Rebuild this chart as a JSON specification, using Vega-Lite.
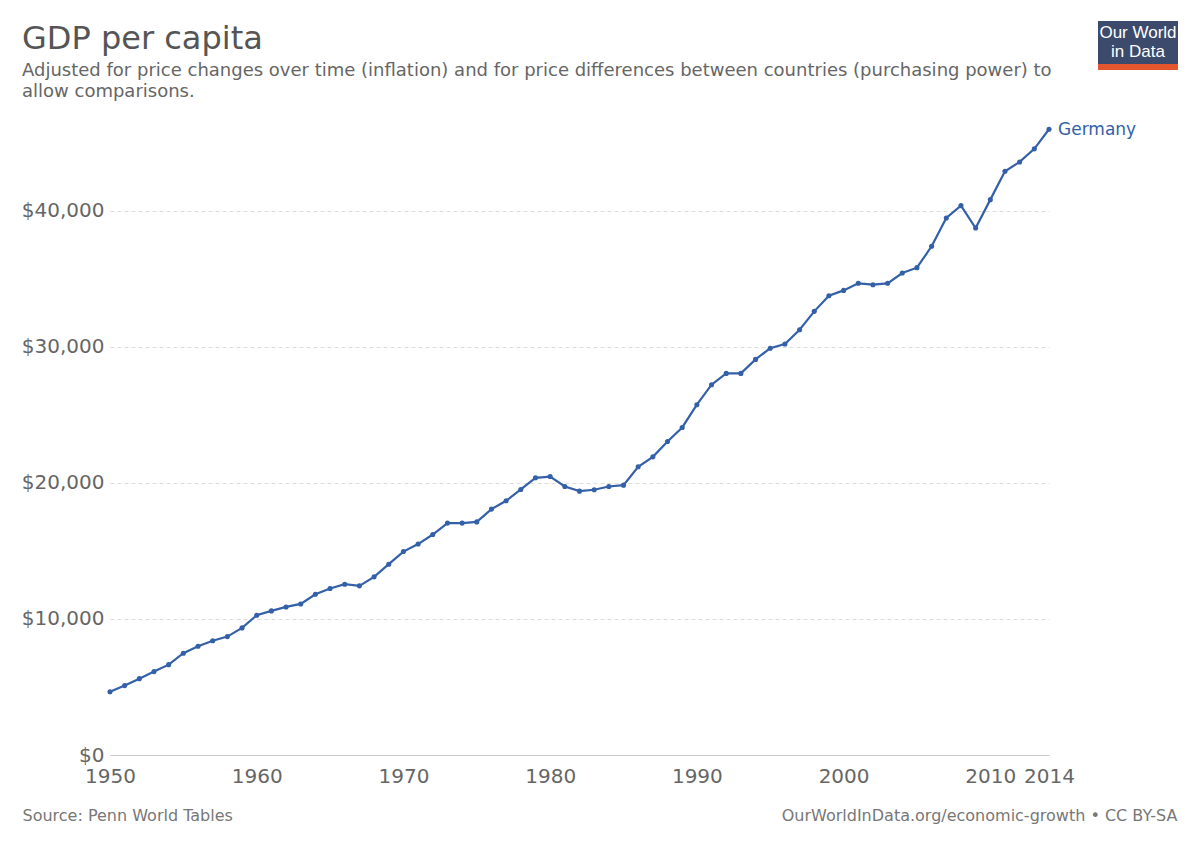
{
  "$schema": "https://vega.github.io/schema/vega-lite/v6.json",
  "width": 939,
  "height": 626,
  "autosize": {"type": "none"},
  "padding": {"left": 110, "top": 129, "right": 151, "bottom": 92},
  "background": "white",
  "config": {"view": {"stroke": null}, "font": "DejaVu Sans"},
  "title": {
    "text": "GDP per capita",
    "subtitle": [
      "Adjusted for price changes over time (inflation) and for price differences between countries (purchasing power) to",
      "allow comparisons."
    ],
    "anchor": "start",
    "frame": "group",
    "dx": -88,
    "offset": -81,
    "fontSize": 32,
    "fontWeight": "normal",
    "color": "#555",
    "subtitleFontSize": 18,
    "subtitleColor": "#666",
    "subtitleLineHeight": 21,
    "subtitlePadding": 6
  },
  "data": {
    "values": [
      {"country": "Germany", "year": 1950, "gdp": 4650},
      {"country": "Germany", "year": 1951, "gdp": 5100},
      {"country": "Germany", "year": 1952, "gdp": 5610},
      {"country": "Germany", "year": 1953, "gdp": 6130},
      {"country": "Germany", "year": 1954, "gdp": 6640},
      {"country": "Germany", "year": 1955, "gdp": 7480},
      {"country": "Germany", "year": 1956, "gdp": 7990},
      {"country": "Germany", "year": 1957, "gdp": 8400},
      {"country": "Germany", "year": 1958, "gdp": 8700},
      {"country": "Germany", "year": 1959, "gdp": 9340},
      {"country": "Germany", "year": 1960, "gdp": 10270},
      {"country": "Germany", "year": 1961, "gdp": 10590},
      {"country": "Germany", "year": 1962, "gdp": 10880},
      {"country": "Germany", "year": 1963, "gdp": 11100},
      {"country": "Germany", "year": 1964, "gdp": 11810},
      {"country": "Germany", "year": 1965, "gdp": 12230},
      {"country": "Germany", "year": 1966, "gdp": 12550},
      {"country": "Germany", "year": 1967, "gdp": 12430},
      {"country": "Germany", "year": 1968, "gdp": 13090},
      {"country": "Germany", "year": 1969, "gdp": 14020},
      {"country": "Germany", "year": 1970, "gdp": 14950},
      {"country": "Germany", "year": 1971, "gdp": 15500},
      {"country": "Germany", "year": 1972, "gdp": 16200},
      {"country": "Germany", "year": 1973, "gdp": 17040},
      {"country": "Germany", "year": 1974, "gdp": 17040},
      {"country": "Germany", "year": 1975, "gdp": 17130},
      {"country": "Germany", "year": 1976, "gdp": 18070},
      {"country": "Germany", "year": 1977, "gdp": 18680},
      {"country": "Germany", "year": 1978, "gdp": 19510},
      {"country": "Germany", "year": 1979, "gdp": 20370},
      {"country": "Germany", "year": 1980, "gdp": 20460},
      {"country": "Germany", "year": 1981, "gdp": 19730},
      {"country": "Germany", "year": 1982, "gdp": 19390},
      {"country": "Germany", "year": 1983, "gdp": 19490},
      {"country": "Germany", "year": 1984, "gdp": 19730},
      {"country": "Germany", "year": 1985, "gdp": 19830},
      {"country": "Germany", "year": 1986, "gdp": 21180},
      {"country": "Germany", "year": 1987, "gdp": 21910},
      {"country": "Germany", "year": 1988, "gdp": 23040},
      {"country": "Germany", "year": 1989, "gdp": 24070},
      {"country": "Germany", "year": 1990, "gdp": 25740},
      {"country": "Germany", "year": 1991, "gdp": 27210},
      {"country": "Germany", "year": 1992, "gdp": 28040},
      {"country": "Germany", "year": 1993, "gdp": 28040},
      {"country": "Germany", "year": 1994, "gdp": 29070},
      {"country": "Germany", "year": 1995, "gdp": 29890},
      {"country": "Germany", "year": 1996, "gdp": 30200},
      {"country": "Germany", "year": 1997, "gdp": 31250},
      {"country": "Germany", "year": 1998, "gdp": 32600},
      {"country": "Germany", "year": 1999, "gdp": 33750},
      {"country": "Germany", "year": 2000, "gdp": 34140},
      {"country": "Germany", "year": 2001, "gdp": 34660},
      {"country": "Germany", "year": 2002, "gdp": 34560},
      {"country": "Germany", "year": 2003, "gdp": 34660},
      {"country": "Germany", "year": 2004, "gdp": 35420},
      {"country": "Germany", "year": 2005, "gdp": 35810},
      {"country": "Germany", "year": 2006, "gdp": 37380},
      {"country": "Germany", "year": 2007, "gdp": 39460},
      {"country": "Germany", "year": 2008, "gdp": 40370},
      {"country": "Germany", "year": 2009, "gdp": 38720},
      {"country": "Germany", "year": 2010, "gdp": 40810},
      {"country": "Germany", "year": 2011, "gdp": 42890},
      {"country": "Germany", "year": 2012, "gdp": 43580},
      {"country": "Germany", "year": 2013, "gdp": 44540},
      {"country": "Germany", "year": 2014, "gdp": 45980}
    ]
  },
  "encoding": {
    "x": {
      "field": "year",
      "type": "quantitative",
      "scale": {"domain": [1950, 2014], "nice": false, "zero": false},
      "axis": {
        "values": [1950, 1960, 1970, 1980, 1990, 2000, 2010, 2014],
        "format": "d",
        "grid": false,
        "ticks": false,
        "domainColor": "#ccc",
        "labelFontSize": 20,
        "labelColor": "#666",
        "labelPadding": 11,
        "labelFlush": false,
        "labelOverlap": false,
        "title": "OurWorldInData.org/economic-growth • CC BY-SA",
        "titleX": 1067,
        "titleY": 60,
        "titleAlign": "right",
        "titleBaseline": "middle",
        "titleFontSize": 16,
        "titleFontWeight": "normal",
        "titleColor": "#777"
      }
    },
    "y": {
      "field": "gdp",
      "type": "quantitative",
      "scale": {"domain": [0, 46000], "nice": false},
      "axis": {
        "values": [0, 10000, 20000, 30000, 40000],
        "format": "$,.0f",
        "domain": false,
        "ticks": false,
        "gridColor": "#ddd",
        "gridDash": [4, 3],
        "labelFontSize": 20,
        "labelColor": "#666",
        "labelPadding": 6,
        "title": "Source: Penn World Tables",
        "titleAngle": 0,
        "titleX": -88,
        "titleY": 686,
        "titleAlign": "left",
        "titleBaseline": "middle",
        "titleFontSize": 16,
        "titleFontWeight": "normal",
        "titleColor": "#777"
      }
    }
  },
  "layer": [
    {"mark": {"type": "line", "color": "#3360a9", "strokeWidth": 2.2}},
    {"mark": {"type": "point", "filled": true, "color": "#3360a9", "size": 26, "opacity": 1}},
    {
      "transform": [{"filter": "datum.year == 2014"}],
      "mark": {"type": "text", "align": "left", "baseline": "middle", "dx": 9, "dy": 1, "fontSize": 17, "color": "#3360a9"},
      "encoding": {"text": {"field": "country"}}
    },
    {
      "data": {"values": [{"part": "logo"}]},
      "mark": {"type": "rect", "color": "#3c4a6b"},
      "encoding": {"x": {"value": 988}, "x2": {"value": 1068}, "y": {"value": -108}, "y2": {"value": -65}}
    },
    {
      "data": {"values": [{"part": "logo"}]},
      "mark": {"type": "rect", "color": "#e4572e"},
      "encoding": {"x": {"value": 988}, "x2": {"value": 1068}, "y": {"value": -65}, "y2": {"value": -59}}
    },
    {
      "data": {"values": [{"part": "logo"}]},
      "mark": {"type": "text", "align": "center", "baseline": "middle", "font": "Liberation Sans", "fontSize": 17, "color": "white", "letterSpacing": -0.8},
      "encoding": {"x": {"value": 1028}, "y": {"value": -96}, "text": {"value": "Our World"}}
    },
    {
      "data": {"values": [{"part": "logo"}]},
      "mark": {"type": "text", "align": "center", "baseline": "middle", "font": "Liberation Sans", "fontSize": 17, "color": "white", "letterSpacing": -0.8},
      "encoding": {"x": {"value": 1028}, "y": {"value": -77}, "text": {"value": "in Data"}}
    }
  ]
}
